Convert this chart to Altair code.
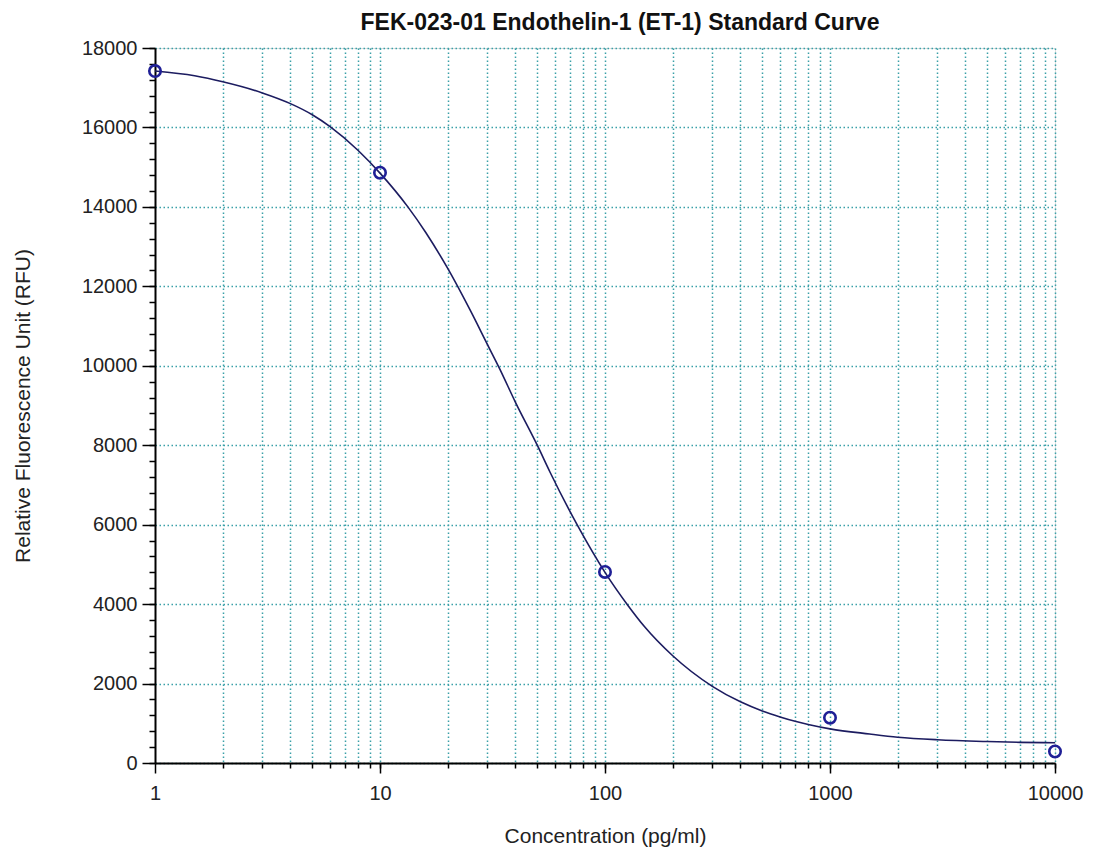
import altair as alt
import pandas as pd

# fitted standard curve
curve_conc = [1, 1.5, 2, 3, 4, 5, 6, 8, 10, 13.3, 16, 20, 25, 30, 34, 40, 50, 57, 76,
              100, 126, 150, 200, 300, 400, 500, 600, 700, 800, 1000, 1500, 2000, 3000,
              5000, 7000, 10000]
curve_rfu = [17420, 17300, 17150, 16870, 16600, 16320, 16020, 15420, 14850, 14000, 13350,
             12450, 11430, 10540, 9930, 9080, 8000, 7320, 5950, 4800, 3980, 3430, 2700,
             1930, 1540, 1310, 1160, 1050, 970, 860, 730, 650, 585, 540, 520, 510]

# measured standards
pt_conc = [1, 10, 100, 1000, 10000]
pt_rfu = [17420, 14860, 4810, 1140, 290]

# axis values
x_major = [1, 10, 100, 1000, 10000]
x_minor = [m * d for d in [1, 10, 100, 1000] for m in range(2, 11)]
y_major = list(range(0, 18001, 2000))
y_minor = list(range(0, 18001, 400))

curve_df = pd.DataFrame({"conc": curve_conc, "rfu": curve_rfu})
pt_df = pd.DataFrame({"conc": pt_conc, "rfu": pt_rfu})

FONT = "Liberation Sans"
GRID = "#3aa0a8"
xscale = alt.Scale(type="log", domain=[1, 10000], nice=False)
yscale = alt.Scale(domain=[0, 18000], nice=False, zero=True)

minor_x_axis = alt.Axis(orient="bottom", values=x_minor, labels=False, title=None,
                        tickSize=5, tickColor="black", tickWidth=1.5, domain=False,
                        grid=True, gridColor=GRID, gridDash=[1.5, 2.5], gridWidth=1.5,
                        gridOpacity=1)
minor_y_axis = alt.Axis(orient="left", values=y_minor, labels=False, title=None,
                        tickSize=6, tickColor="black", tickWidth=1.5, domain=False,
                        grid=False)

major_x_axis = alt.Axis(orient="bottom", values=x_major, format="d", title="Concentration (pg/ml)",
                        tickSize=10, tickColor="black", tickWidth=1.5, domainColor="black",
                        domainWidth=2, grid=False, labelFont=FONT, labelFontSize=20,
                        labelColor="#222222", labelPadding=10, titleFont=FONT,
                        titleFontSize=21, titleFontWeight="normal", titleColor="#222222",
                        titlePadding=22, labelFlush=False)
major_y_axis = alt.Axis(orient="left", values=y_major, format="d",
                        title="Relative Fluorescence Unit (RFU)",
                        tickSize=13, tickColor="black", tickWidth=1.5, domainColor="black",
                        domainWidth=2, grid=True, gridColor=GRID, gridDash=[1.5, 2.5],
                        gridWidth=1.5, gridOpacity=1, labelFont=FONT, labelFontSize=20,
                        labelColor="#222222", labelPadding=5, titleFont=FONT,
                        titleFontSize=21, titleFontWeight="normal", titleColor="#222222",
                        titlePadding=48, labelFlush=False)

line = alt.Chart(curve_df).mark_line(color="#1c1c60", strokeWidth=1.6, interpolate="monotone").encode(
    x=alt.X("conc:Q", scale=xscale, axis=minor_x_axis),
    y=alt.Y("rfu:Q", scale=yscale, axis=minor_y_axis),
)

points = alt.Chart(pt_df).mark_point(shape="circle", filled=False, color="#1f1f96",
                                     size=130, strokeWidth=2.6, opacity=1).encode(
    x=alt.X("conc:Q", scale=xscale, axis=major_x_axis),
    y=alt.Y("rfu:Q", scale=yscale, axis=major_y_axis),
)

chart = alt.layer(line, points).resolve_axis(x="independent", y="independent").properties(
    width=900,
    height=715,
    autosize="none",
    padding={"left": 147, "top": 40, "right": 33, "bottom": 92},
    title=alt.TitleParams("FEK-023-01 Endothelin-1 (ET-1) Standard Curve", font=FONT,
                          fontSize=23, fontWeight="bold", color="#111111",
                          anchor="middle", offset=3, dx=15),
).configure_view(stroke="black", strokeWidth=2).configure(background="white")

chart.save("out.html", embed_options={"renderer": "svg", "actions": False})
